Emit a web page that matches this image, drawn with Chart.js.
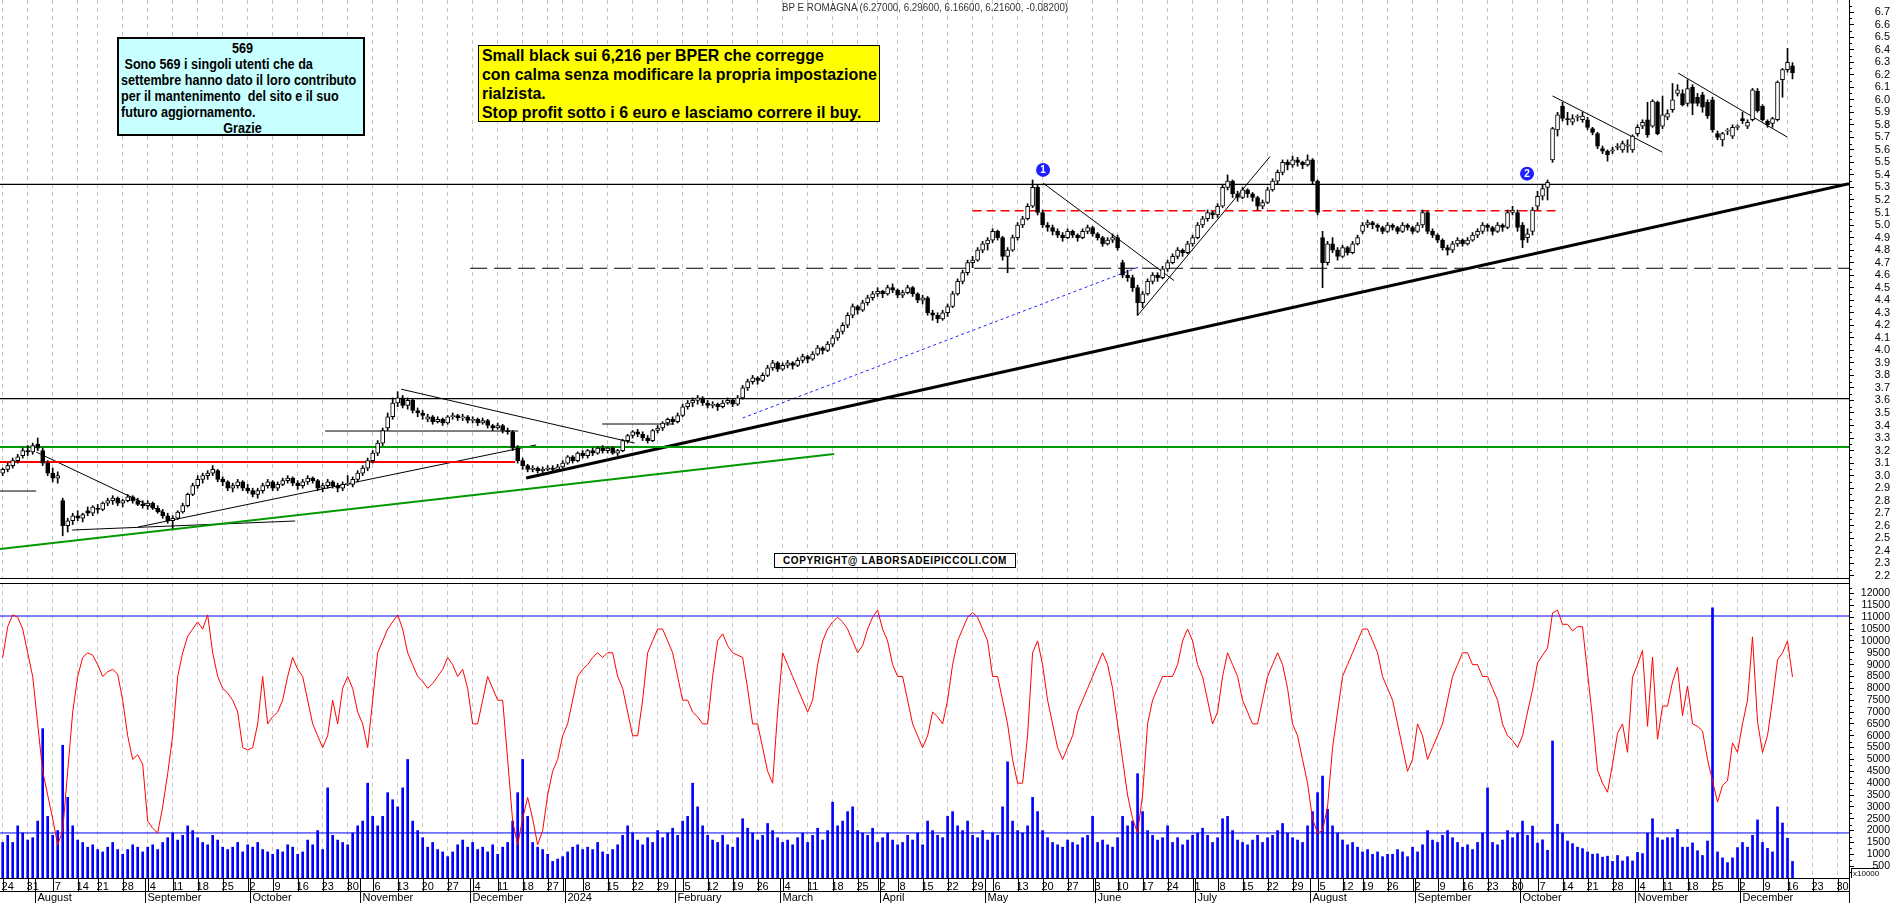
<!DOCTYPE html>
<html>
<head>
<meta charset="utf-8">
<title>BP E ROMAGNA</title>
<script src="https://cdn.jsdelivr.net/npm/chart.js@4.4.1/dist/chart.umd.min.js"></script>
<style>
  html, body { margin: 0; padding: 0; background: #fff; }
  body { width: 1890px; height: 903px; position: relative; overflow: hidden; font-family: "Liberation Sans", Arial, sans-serif; }
  canvas { position: absolute; left: 0; }
  #priceCanvas { top: 0; }
  #oscCanvas { top: 580px; }
  .title { position: absolute; left: 782px; top: 1px; font-size: 11px; color: #333; white-space: nowrap; transform: scaleX(0.89); transform-origin: left top; }
  .note { position: absolute; box-sizing: border-box; color: #000; white-space: nowrap; }
  .squeeze { transform-origin: left top; }
  #boxUsers { left: 117px; top: 37px; width: 248px; height: 99px; background: #c8ffff; border: 2px solid #000;
              font-size: 14px; line-height: 16px; padding: 1px 0 0 2px; }
  #boxUsers .squeeze { transform: scaleX(0.9); font-weight: bold; width: 270px; }
  #boxSignal { left: 478px; top: 45px; width: 402px; height: 77px; background: #ffff00; border: 1px solid #000;
               font-weight: bold; font-size: 17px; line-height: 19px; padding: 0 0 0 3px; }
  #boxSignal .squeeze { transform: scaleX(0.937); }
  #boxCopy { left: 774px; top: 553px; width: 242px; height: 15px; background: #fff; border: 1px solid #000;
             font-weight: bold; font-size: 10px; line-height: 13px; text-align: center; letter-spacing: 0.6px; }
  #unitBox { left: 1851px; top: 868px; width: 28px; height: 10px; border-left: 1px solid #000; border-top: 1px solid #000; font-size: 8px; line-height: 9px; padding-left: 1px; }
</style>
</head>
<body>
<canvas id="priceCanvas" width="1890" height="580" style="width:1890px;height:580px"></canvas>
<canvas id="oscCanvas" width="1890" height="323" style="width:1890px;height:323px"></canvas>
<div class="title">BP E ROMAGNA (6.27000, 6.29600, 6.16600, 6.21600, -0.08200)</div>
<div class="note" id="boxUsers"><div class="squeeze">
  <div style="text-align:center">569</div>
  <div>&nbsp;Sono 569 i singoli utenti che da</div>
  <div>settembre hanno dato il loro contributo</div>
  <div>per il mantenimento &nbsp;del sito e il suo</div>
  <div>futuro aggiornamento.</div>
  <div style="text-align:center">Grazie</div>
</div></div>
<div class="note" id="boxSignal"><div class="squeeze">
  <div>Small black sui 6,216 per BPER che corregge</div>
  <div>con calma senza modificare la propria impostazione</div>
  <div>rialzista.</div>
  <div>Stop profit sotto i 6 euro e lasciamo correre il buy.</div>
</div></div>
<div class="note" id="boxCopy">COPYRIGHT@ LABORSADEIPICCOLI.COM</div>
<div class="note" id="unitBox">x10000</div>
<script>
// trading calendar (Borsa Italiana closing days inside the traded range)
const holidays = ['2023-08-15','2023-12-25','2023-12-26','2024-01-01','2024-03-29','2024-04-01','2024-05-01','2024-08-15'];
const firstDate = '2023-07-21';
const lastDate = '2024-12-31';
const zeroDate = '2023-07-24';
const monthLabels = ['August','September','October','November','December','2024','February','March','April','May','June','July','August','September','October','November','December'];

// daily candles, one row per week, from 21 Jul 2023 to 16 Dec 2024
const opens = [
  3.02,
  3.05,3.08,3.12,3.16,3.20, 3.19,3.25,3.20,3.10,3.02, 2.98,2.80,2.60,2.64,2.68, 2.66,2.72,2.70,2.74,
  2.73,2.78,2.80,2.82,2.78, 2.80,2.83,2.80,2.77,2.76, 2.78,2.74,2.71,2.68,2.64, 2.66,2.71,2.76,2.85,2.92,
  2.97,3.00,3.02,3.04,2.97, 2.95,2.90,2.92,2.95,2.90, 2.88,2.85,2.88,2.92,2.95, 2.90,2.93,2.96,2.98,2.94,
  2.92,2.95,2.98,2.96,2.90, 2.92,2.95,2.92,2.90,2.93, 2.93,2.97,3.02,3.06,3.12, 3.18,3.26,3.38,3.47,3.58,
  3.62,3.56,3.60,3.52,3.50, 3.45,3.47,3.43,3.45,3.42, 3.47,3.48,3.46,3.47,3.44, 3.45,3.42,3.44,3.40,3.38,
  3.40,3.36,3.35,3.22,3.12, 3.08,3.05,3.06,3.04,3.05, 3.06,3.05,3.07, 3.10,3.15,3.12,3.18,
  3.16,3.20,3.18,3.22,3.20, 3.22,3.18,3.20,3.28,3.32, 3.35,3.33,3.30,3.28,3.36, 3.38,3.42,3.45,3.43,3.48,
  3.55,3.58,3.60,3.62,3.58, 3.56,3.57,3.55,3.58,3.60, 3.57,3.62,3.70,3.75,3.78, 3.76,3.80,3.86,3.90,3.85,
  3.88,3.90,3.88,3.92,3.95, 3.93,3.97,4.02,4.00,4.05, 4.10,4.15,4.20,4.28,4.35, 4.32,4.38,4.42,4.45,
  4.47,4.45,4.50,4.48, 4.44,4.46,4.50,4.45,4.40, 4.42,4.30,4.28,4.25,4.30, 4.35,4.45,4.55,4.62,4.70,
  4.72,4.80,4.85,4.88, 4.95,4.90,4.75,4.80,4.90, 5.00,5.05,5.15,5.30,5.10, 5.00,4.98,4.95,4.92,4.90,
  4.95,4.92,4.90,4.95,4.98, 4.93,4.90,4.85,4.88,4.90, 4.70,4.60,4.58,4.50,4.38, 4.45,4.55,4.60,4.58,4.65,
  4.70,4.75,4.80,4.78,4.85, 4.90,5.00,5.05,5.10,5.08, 5.15,5.30,5.35,5.25,5.22, 5.28,5.25,5.22,5.15,5.18,
  5.28,5.35,5.42,5.50,5.48, 5.52,5.50,5.48,5.52,5.35, 4.90,4.70,4.85,4.80,4.75, 4.82,4.78,4.85,4.95,
  5.00,5.02,5.00,4.98,4.95, 5.00,4.98,4.95,5.00,4.98, 4.95,5.00,5.10,4.95,4.92, 4.88,4.82,4.80,4.85,4.88,
  4.85,4.88,4.92,4.95,5.00, 4.98,4.95,5.00,4.98,5.10, 5.10,5.00,4.90,4.95,5.15, 5.23,5.30,5.52,5.76,5.95,
  5.85,5.82,5.86,5.84,5.84, 5.77,5.73,5.61,5.59,5.59, 5.62,5.60,5.63,5.60,5.73, 5.79,5.84,5.79,5.98,5.79,
  5.86,5.92,6.05,6.05,5.97, 6.10,6.02,6.04,5.98,6.00, 5.73,5.68,5.75,5.71,5.78, 5.85,5.79,5.84,6.07,5.95,
  5.83,5.81,5.84,6.16,6.24, 6.27
];
const highs = [
  3.06,
  3.10,3.14,3.17,3.22,3.24, 3.26,3.30,3.22,3.12,3.06, 3.03,2.82,2.66,2.70,2.72, 2.70,2.75,2.76,2.77,
  2.79,2.82,2.84,2.83,2.81, 2.85,2.84,2.82,2.80,2.80, 2.79,2.76,2.73,2.70,2.68, 2.72,2.78,2.86,2.94,3.00,
  3.02,3.04,3.08,3.05,2.99, 2.96,2.94,2.97,2.96,2.93, 2.90,2.90,2.94,2.97,2.96, 2.95,2.98,3.00,2.99,2.96,
  2.97,3.00,2.99,2.97,2.94, 2.97,2.96,2.94,2.95,3.00, 2.99,3.04,3.08,3.14,3.20, 3.28,3.38,3.50,3.62,3.67,
  3.64,3.62,3.61,3.54,3.52, 3.49,3.48,3.47,3.46,3.48, 3.50,3.49,3.49,3.48,3.47, 3.46,3.46,3.45,3.41,3.42,
  3.41,3.38,3.36,3.24,3.14, 3.09,3.08,3.07,3.07,3.08, 3.08,3.09,3.12, 3.16,3.16,3.19,3.20,
  3.21,3.22,3.23,3.24,3.23, 3.23,3.21,3.29,3.33,3.36, 3.37,3.35,3.32,3.37,3.40, 3.43,3.46,3.47,3.50,3.57,
  3.60,3.62,3.64,3.63,3.60, 3.59,3.58,3.60,3.62,3.61, 3.64,3.72,3.77,3.80,3.79, 3.82,3.88,3.92,3.91,3.90,
  3.92,3.91,3.94,3.97,3.96, 3.99,4.04,4.03,4.07,4.12, 4.17,4.22,4.30,4.37,4.36, 4.40,4.44,4.47,4.50,
  4.48,4.52,4.53,4.49, 4.48,4.52,4.51,4.46,4.44, 4.43,4.32,4.30,4.32,4.37, 4.47,4.57,4.64,4.72,4.75,
  4.82,4.87,4.90,4.97, 4.96,4.91,4.82,4.92,5.02, 5.07,5.17,5.36,5.32,5.12, 5.02,5.00,4.97,4.94,4.97,
  4.96,4.93,4.97,5.00,4.99, 4.94,4.91,4.90,4.93,4.92, 4.72,4.64,4.60,4.52,4.47, 4.57,4.62,4.62,4.67,4.72,
  4.77,4.82,4.81,4.87,4.92, 5.02,5.07,5.12,5.11,5.17, 5.32,5.40,5.36,5.27,5.30, 5.29,5.26,5.23,5.20,5.30,
  5.37,5.44,5.52,5.52,5.55, 5.54,5.51,5.56,5.53,5.36, 4.95,4.87,4.90,4.82,4.84, 4.83,4.87,4.92,5.02,
  5.04,5.03,5.01,4.99,5.02, 5.01,4.99,5.02,5.01,4.99, 5.02,5.12,5.11,4.97,4.93, 4.89,4.84,4.87,4.90,4.89,
  4.90,4.94,4.97,5.02,5.01, 4.99,5.02,5.01,5.12,5.15, 5.12,5.02,4.97,5.14,5.27, 5.32,5.36,5.78,5.90,5.98,
  5.90,5.88,5.88,5.90,5.86, 5.78,5.74,5.63,5.60,5.62, 5.65,5.67,5.68,5.72,5.80, 5.84,5.98,6.00,5.99,6.03,
  5.92,6.13,6.12,6.08,6.16, 6.12,6.05,6.06,6.00,6.02, 5.75,5.74,5.77,5.80,5.80, 5.90,5.84,6.09,6.09,5.96,
  5.84,5.86,6.15,6.25,6.41, 6.296
];
const lows = [
  3.00,
  3.03,3.06,3.10,3.14,3.16, 3.17,3.20,3.08,3.00,2.95, 2.94,2.52,2.55,2.61,2.64, 2.63,2.68,2.68,2.70,
  2.72,2.76,2.77,2.76,2.75, 2.79,2.78,2.76,2.74,2.73, 2.73,2.70,2.66,2.62,2.58, 2.65,2.70,2.75,2.84,2.90,
  2.94,2.97,3.00,2.95,2.92, 2.88,2.87,2.90,2.88,2.86, 2.83,2.82,2.86,2.90,2.88, 2.88,2.92,2.94,2.92,2.89,
  2.90,2.93,2.94,2.88,2.87, 2.90,2.90,2.87,2.88,2.92, 2.91,2.95,3.00,3.04,3.10, 3.16,3.24,3.36,3.45,3.55,
  3.54,3.53,3.50,3.47,3.45, 3.43,3.41,3.42,3.40,3.41, 3.45,3.44,3.44,3.42,3.42, 3.40,3.41,3.38,3.36,3.37,
  3.34,3.33,3.20,3.10,3.05, 3.03,3.03,3.02,3.02,3.04, 3.03,3.04,3.06, 3.09,3.10,3.11,3.14,
  3.14,3.16,3.17,3.18,3.18, 3.17,3.16,3.19,3.26,3.30, 3.31,3.28,3.26,3.27,3.34, 3.36,3.40,3.41,3.42,3.47,
  3.53,3.55,3.57,3.56,3.54, 3.54,3.52,3.54,3.57,3.55, 3.56,3.61,3.68,3.73,3.73, 3.75,3.79,3.84,3.83,3.84,
  3.86,3.85,3.87,3.90,3.90, 3.92,3.96,3.97,3.99,4.03, 4.08,4.13,4.18,4.26,4.29, 4.31,4.36,4.40,4.43,
  4.42,4.44,4.46,4.42, 4.42,4.45,4.43,4.38,4.37, 4.28,4.24,4.22,4.24,4.27, 4.34,4.44,4.53,4.60,4.66,
  4.71,4.78,4.80,4.86, 4.88,4.72,4.62,4.79,4.88, 4.98,5.04,5.14,5.08,4.98, 4.95,4.92,4.90,4.87,4.89,
  4.90,4.87,4.89,4.93,4.91, 4.88,4.83,4.84,4.86,4.80, 4.58,4.55,4.47,4.28,4.34, 4.44,4.53,4.55,4.57,4.63,
  4.69,4.73,4.75,4.77,4.83, 4.89,4.98,5.03,5.05,5.06, 5.14,5.28,5.22,5.19,5.21, 5.22,5.19,5.12,5.13,5.17,
  5.27,5.33,5.40,5.44,5.46, 5.47,5.45,5.47,5.33,5.08, 4.50,4.68,4.78,4.72,4.74, 4.76,4.77,4.84,4.93,
  4.98,4.97,4.95,4.93,4.94, 4.96,4.93,4.94,4.96,4.93, 4.94,4.98,4.93,4.90,4.86, 4.80,4.76,4.78,4.83,4.83,
  4.84,4.87,4.90,4.93,4.95, 4.92,4.94,4.95,4.97,5.08, 4.95,4.82,4.86,4.92,5.12, 5.20,5.20,5.50,5.71,5.83,
  5.80,5.80,5.83,5.82,5.76, 5.72,5.61,5.57,5.51,5.57, 5.60,5.58,5.58,5.58,5.71, 5.77,5.70,5.78,5.72,5.77,
  5.84,5.90,6.03,5.95,5.95, 5.88,5.95,5.90,5.85,5.74, 5.68,5.63,5.72,5.69,5.76, 5.81,5.77,5.83,5.90,5.83,
  5.78,5.78,5.83,6.02,6.22, 6.166
];
const closes = [
  3.05,
  3.08,3.12,3.15,3.20,3.19, 3.24,3.22,3.10,3.02,2.98, 3.00,2.60,2.64,2.68,2.66, 2.69,2.70,2.75,2.73,
  2.78,2.80,2.82,2.78,2.80, 2.83,2.80,2.77,2.76,2.78, 2.74,2.71,2.68,2.64,2.66, 2.71,2.76,2.85,2.92,2.97,
  3.00,3.02,3.05,2.97,2.95, 2.90,2.92,2.95,2.90,2.88, 2.85,2.88,2.92,2.95,2.90, 2.93,2.96,2.98,2.94,2.92,
  2.95,2.98,2.96,2.90,2.92, 2.95,2.92,2.90,2.93,2.93, 2.97,3.02,3.06,3.12,3.18, 3.26,3.36,3.47,3.58,3.62,
  3.56,3.60,3.52,3.50,3.48, 3.47,3.43,3.45,3.42,3.47, 3.48,3.46,3.47,3.44,3.45, 3.42,3.44,3.40,3.38,3.40,
  3.36,3.35,3.22,3.12,3.08, 3.05,3.06,3.04,3.05,3.06, 3.05,3.07,3.10, 3.15,3.12,3.18,3.16,
  3.20,3.18,3.22,3.20,3.22, 3.18,3.20,3.28,3.32,3.35, 3.33,3.30,3.28,3.36,3.38, 3.42,3.45,3.43,3.48,3.55,
  3.58,3.60,3.62,3.58,3.56, 3.57,3.55,3.58,3.60,3.57, 3.62,3.70,3.75,3.78,3.76, 3.80,3.86,3.90,3.85,3.88,
  3.90,3.88,3.92,3.95,3.93, 3.97,4.02,4.00,4.05,4.10, 4.15,4.20,4.28,4.35,4.32, 4.38,4.42,4.45,4.47,
  4.45,4.50,4.48,4.44, 4.46,4.50,4.45,4.40,4.42, 4.30,4.28,4.25,4.30,4.35, 4.45,4.55,4.62,4.70,4.72,
  4.80,4.85,4.88,4.95, 4.90,4.75,4.80,4.90,5.00, 5.05,5.15,5.30,5.10,5.00, 4.98,4.95,4.92,4.90,4.95,
  4.92,4.90,4.95,4.98,4.93, 4.90,4.85,4.88,4.90,4.82, 4.60,4.58,4.50,4.38,4.45, 4.55,4.60,4.58,4.65,4.70,
  4.75,4.80,4.78,4.85,4.90, 5.00,5.05,5.10,5.08,5.15, 5.30,5.35,5.25,5.22,5.28, 5.25,5.22,5.15,5.18,5.28,
  5.35,5.42,5.50,5.48,5.52, 5.50,5.48,5.52,5.35,5.10, 4.70,4.85,4.80,4.75,4.82, 4.78,4.85,4.90,5.00,
  5.02,5.00,4.98,4.95,5.00, 4.98,4.95,5.00,4.98,4.95, 5.00,5.10,4.95,4.92,4.88, 4.82,4.80,4.85,4.88,4.85,
  4.88,4.92,4.95,5.00,4.98, 4.95,5.00,4.98,5.10,5.12, 4.98,4.88,4.93,5.12,5.23, 5.29,5.34,5.77,5.88,5.85,
  5.84,5.85,5.86,5.87,5.78, 5.74,5.63,5.59,5.56,5.60, 5.63,5.65,5.64,5.71,5.78, 5.82,5.72,5.99,5.73,5.88,
  5.89,6.00,6.08,5.96,6.09, 5.97,5.97,5.94,5.87,5.76, 5.70,5.73,5.75,5.78,5.78, 5.83,5.82,6.08,5.91,5.84,
  5.80,5.85,6.14,6.24,6.298, 6.216
];
// volume (x10000 shares)
const volumes = [
  1500,
  1800,1500,2200,1900,1600, 1700,2400,6300,2600,1800, 2000,5600,3400,2200,1600, 1500,1300,1400,1200,
  1100,1300,1500,1200,1000, 1200,1400,1300,1100,1300, 1400,1200,1500,1700,1900, 1600,1800,2200,2000,1700,
  1500,1400,1800,1600,1300, 1200,1300,1500,1100,1400, 1300,1500,1200,1100,1000, 1200,1100,1400,1300,1000,
  1100,1600,1400,2000,1200, 3800,1800,1600,1500,1400, 1900,2200,2400,4000,2600, 2200,2600,3600,3300,3000,
  3800,5000,2400,2000,1700, 1300,1500,1200,1100,900, 1100,1400,1600,1300,1500, 1200,1300,1100,1400,1000,
  1300,1500,2400,3600,5000, 2600,1500,1300,1200,1000, 700,800,900, 1100,1300,1400,1200,
  1300,1200,1500,1100,1000, 1200,1400,1800,2200,1900, 1600,1400,1700,1500,2000, 1700,1900,2100,1800,2400,
  2600,4000,3000,2200,1800, 1600,1500,1800,1400,1300, 1700,2500,2100,1900,1600, 1800,2300,2000,1700,1500,
  1600,1400,1700,1900,1500, 1800,2100,1600,2000,3200, 2200,2400,2800,3000,2000, 1900,1800,2100,1500,
  1700,1900,1600,1400, 1500,1800,1600,1900,1400, 2400,2000,1800,1700,2600, 2800,2200,2000,2400,1800,
  1700,2000,1600,1900, 1800,3000,4900,2400,2000, 1900,2200,3400,2800,2000, 1700,1500,1400,1300,1600,
  1500,1400,1700,1800,2600, 1500,1600,1400,1300,1700, 2600,2200,2400,4400,2800, 2000,1800,1600,1700,2200,
  1500,1700,1400,1600,1800, 1900,2100,1800,1500,1700, 2500,2600,2000,1600,1500, 1400,1600,1800,1500,1700,
  1800,2000,2300,1900,1700, 1600,1500,2200,2800,3600, 4300,2900,2200,1900,1600, 1400,1500,1300,1100,
  1200,1000,1100,900,1000, 1000,1200,1100,900,1300, 1100,1400,2000,1600,1500, 1800,2000,1700,1500,1300,
  1400,1200,1500,1900,3800, 1500,1400,1600,2000,1700, 1900,2400,1800,2190,1470, 1610,1170,5780,2270,1900,
  1560,1450,1300,1240,1100, 1000,1020,880,920,700, 950,720,900,720,1080, 1030,1890,2500,1700,1600,
  1700,1700,2050,1300,1300, 1480,1150,950,1560,11400, 1100,850,650,850,1280, 1500,1300,1800,2450,1500,
  1250,1100,3000,2320,1680, 700
];
// red oscillator of the lower panel
const oscValues = [
  9300,
  10600,11100,11000,10500,9500, 8500,6500,4500,3500,2500, 1400,2000,4500,7000,8500, 9300,9500,9400,9000,
  8500,8700,8800,8600,7500, 6000,5000,5200,4800,2400, 2100,1900,3000,4400,6000, 8500,9500,10200,10500,10800,
  10500,11100,9500,8500,8000, 7800,7500,7000,5500,5400, 5500,6500,8500,6500,6800, 7000,7500,8500,9300,8800,
  8500,7500,6500,6000,5500, 6000,7500,6500,8000,8500, 8000,7000,6500,5500,7500, 9500,10000,10500,10800,11100,
  10500,9500,9000,8500,8300, 8000,8200,8500,8800,9300, 9000,8500,8800,8000,6500, 6500,7500,8500,8000,7500,
  7500,5000,2400,1400,2500, 3400,2500,1400,2000,3500, 4500,5000,6000, 6500,7500,8500,8800,
  9000,9300,9500,9300,9500, 9500,8500,8000,7000,6000, 6000,7500,9500,10000,10500, 10500,10000,9500,8500,7500,
  7500,7000,6800,6500,6500, 8500,10000,10300,9800,9500, 9400,9300,8000,6500,6500, 5500,4500,4000,7000,9500,
  9000,8500,8000,7500,7000, 7500,9000,10000,10500,10800, 11000,10800,10500,10000,9500, 9800,10500,11000,11300,
  10500,10000,9000,8500, 8500,7500,6500,6000,5500, 6000,7000,6800,6500,7500, 9000,10000,10500,11000,11200,
  11000,10500,10000,8500, 8500,7500,6500,5000,4000, 4000,6000,9500,10000,9000, 7500,6500,5500,5000,5500,
  6000,7000,7500,8000,8500, 9000,9500,9000,8000,6500, 5000,3500,2500,1900,3500, 6500,7500,8000,8500,8500,
  8500,9000,10000,10500,10000, 9000,8500,7500,6500,7000, 8500,9500,9000,8500,7500, 7000,6500,6500,7500,8500,
  9000,9500,9000,8000,6500, 6000,5000,4000,2500,1900, 2000,3000,5500,7000,8500, 9000,9500,10000,10500,
  10500,10000,9500,8500,8000, 7500,6500,5500,4500,5000, 6500,6000,5000,5500,6000, 6500,7500,8500,9000,9500,
  9500,9000,9000,8500,8500, 8000,7500,6500,6000,5800, 5500,6000,7000,7930,9070, 9400,9700,11180,11300,10700,
  10700,10420,10600,10600,8650, 6750,4550,4000,3620,4800, 6100,6500,5300,8470,9000, 9600,6400,9320,5850,7250,
  7250,8270,8900,6850,8100, 6500,6400,6200,5000,4100, 3200,3900,4100,5700,5300, 6500,7500,10170,6600,5300,
  6000,7500,9200,9500,10000, 8480
];
// reference lines of the lower panel
const oscLevels = [11050, 1900];

// drawn lines on the price panel: [fromDay, fromPrice, toDay, toPrice]
const trendLines = [
  [-1.54, 5.325, 368.3, 5.325],
  [-1.54, 3.615, 368.3, 3.615],
  [-1.54, 3.229, 368.3, 3.229],
  [92.5, 4.655, 368.3, 4.655],
  [-1.54, 3.109, 101.5, 3.109],
  [193, 5.114, 310.5, 5.114],
  [103.7, 2.981, 368.3, 5.33],
  [-1.54, 2.414, 165.3, 3.173],
  [5.7, 3.188, 31, 2.71],
  [12.9, 2.566, 57.5, 2.638],
  [26.1, 2.59, 105.7, 3.245],
  [-1.54, 2.877, 5.7, 2.877],
  [63.5, 3.356, 102.1, 3.356],
  [78.7, 3.69, 125.4, 3.26],
  [118.9, 3.412, 133.3, 3.412],
  [207.1, 5.335, 233.3, 4.557],
  [226, 4.278, 252.5, 5.547],
  [309, 6.03, 330.9, 5.583],
  [334.1, 6.213, 355.9, 5.703],
  [147, 3.46, 226.3, 4.665]
];
const trendStyles = [
  ['#000', 1.2, []], ['#000', 1.2, []], ['#009a00', 2, []], ['#000', 1.2, [17, 7]],
  ['#ff0000', 2, []], ['#ff0000', 1.5, [9, 5]], ['#000', 3, []], ['#009a00', 2, []],
  ['#000', 1, []], ['#000', 1, []], ['#000', 1, []], ['#000', 1, []], ['#000', 1, []],
  ['#000', 1, []], ['#000', 1, []], ['#000', 1, []], ['#000', 1, []], ['#000', 1, []],
  ['#000', 1, []], ['#2020ff', 1, [3, 3]]
];
// numbered markers: [day, price]
const markers = [[207.1, 5.44], [303.9, 5.41]];
const markerText = ['1', '2'];

// ---------- calendar ----------
const hol = new Set(holidays);
const lastTraded = '2024-12-16';
const days = [];
for (let d = new Date(firstDate + 'T00:00:00Z'); d <= new Date(lastDate + 'T00:00:00Z'); d.setUTCDate(d.getUTCDate() + 1)) {
  const wd = d.getUTCDay();
  if (wd === 0 || wd === 6) continue;
  const s = d.toISOString().slice(0, 10);
  if (s <= lastTraded && hol.has(s)) continue;
  days.push(s);
}
const zeroIdx = days.indexOf(zeroDate);
const posOf = k => k - zeroIdx;
const X_MIN = -1.54, X_MAX = 368.3;

const weekTicks = [];
const monthStarts = [];
let lastLabelPos = -99;
days.forEach((s, k) => {
  const d = new Date(s + 'T00:00:00Z');
  const p = posOf(k);
  if (k > 0) {
    const prev = new Date(days[k - 1] + 'T00:00:00Z');
    if (d.getUTCDay() < prev.getUTCDay()) {
      const show = p - lastLabelPos >= 4;
      if (show) lastLabelPos = p;
      weekTicks.push({ pos: p - 1, label: String(d.getUTCDate()), show });
    }
    if (d.getUTCMonth() !== prev.getUTCMonth()) monthStarts.push(p);
  }
});
if (opens.length !== closes.length || highs.length !== lows.length || volumes.length !== closes.length || oscValues.length !== closes.length) {
  console.log('length mismatch', opens.length, highs.length, lows.length, closes.length, volumes.length, oscValues.length);
}

// ---------- datasets ----------
const wickData = closes.map((c, k) => ({ x: posOf(k), y: [lows[k], highs[k]] }));
const bodyData = closes.map((c, k) => ({ x: posOf(k), y: [Math.min(opens[k], c), Math.max(opens[k], c)] }));
const bodyColors = closes.map((c, k) => c >= opens[k] ? '#ffffff' : '#000000');

const lineSets = trendLines.map((t, i) => ({
  type: 'line',
  data: [{ x: t[0], y: t[1] }, { x: t[2], y: t[3] }],
  borderColor: trendStyles[i][0],
  borderWidth: trendStyles[i][1],
  borderDash: trendStyles[i][2],
  pointRadius: 0,
  order: 5
}));

const tickFont = { family: '"Liberation Sans", Arial, sans-serif', size: 11 };

function xGrid(extra) {
  return Object.assign({
    type: 'linear', min: X_MIN, max: X_MAX, offset: false,
    afterBuildTicks: s => { s.ticks = weekTicks.map(t => ({ value: t.pos })); },
    grid: { color: '#c4c4c4', lineWidth: 1, drawTicks: false, offset: false },
    border: { display: false, dash: [4, 4] }
  }, extra);
}

const topDecor = {
  id: 'topDecor',
  afterDraw(chart) {
    const { ctx, chartArea: ca, scales } = chart;
    ctx.save();
    ctx.strokeStyle = '#000';
    ctx.lineWidth = 1;
    for (let k = 0; k < 46; k++) {
      const py = Math.round(scales.y.getPixelForValue(2.25 + k * 0.1)) + 0.5;
      ctx.beginPath(); ctx.moveTo(ca.right, py); ctx.lineTo(ca.right + 3, py); ctx.stroke();
    }
    ctx.beginPath(); ctx.moveTo(0, ca.bottom + 0.5); ctx.lineTo(ca.right, ca.bottom + 0.5); ctx.stroke();
    ctx.beginPath(); ctx.moveTo(ca.right + 0.5, 0); ctx.lineTo(ca.right + 0.5, chart.height); ctx.stroke();
    markers.forEach((m, i) => {
      const px = scales.x.getPixelForValue(m[0]);
      const py = scales.y.getPixelForValue(m[1]);
      ctx.fillStyle = '#1f1fff';
      ctx.beginPath(); ctx.arc(px, py, 7, 0, Math.PI * 2); ctx.fill();
      ctx.fillStyle = '#fff';
      ctx.font = 'bold 10px "Liberation Sans", Arial, sans-serif';
      ctx.textAlign = 'center'; ctx.textBaseline = 'middle';
      ctx.fillText(markerText[i], px, py + 0.5);
    });
    ctx.restore();
  }
};

new Chart(document.getElementById('priceCanvas'), {
  type: 'bar',
  data: {
    datasets: [
      { data: bodyData, backgroundColor: bodyColors, borderColor: '#000', borderWidth: 1, borderSkipped: false,
        barThickness: 4, grouped: false, minBarLength: 1, order: 1 },
      { data: wickData, backgroundColor: '#000', borderWidth: 0, barThickness: 1, grouped: false, order: 2 },
      ...lineSets
    ]
  },
  options: {
    responsive: false, animation: false, devicePixelRatio: 1, events: [],
    layout: { padding: 0 },
    plugins: { legend: { display: false }, tooltip: { enabled: false } },
    scales: {
      x: xGrid({
        position: 'bottom',
        ticks: { display: false },
        afterFit: s => { s.height = 2; s.paddingLeft = 0; s.paddingRight = 0; }
      }),
      y: {
        type: 'linear', position: 'right', min: 2.183, max: 6.796,
        afterBuildTicks: s => { const t = []; for (let k = 22; k <= 67; k++) t.push({ value: k / 10 }); s.ticks = t; },
        afterFit: s => { s.width = 41; s.paddingTop = 0; s.paddingBottom = 0; },
        ticks: { autoSkip: false, crossAlign: 'far', padding: 19, color: '#000', font: tickFont,
                 callback: v => v.toFixed(1) },
        grid: { drawOnChartArea: false, drawTicks: true, tickLength: 5, tickColor: '#000' },
        border: { display: true, color: '#000', width: 1 }
      }
    }
  },
  plugins: [topDecor]
});

const botDecor = {
  id: 'botDecor',
  afterDraw(chart) {
    const { ctx, chartArea: ca, scales } = chart;
    ctx.save();
    ctx.strokeStyle = '#000';
    ctx.lineWidth = 1;
    for (let k = 0; k < 25; k++) {
      const py = Math.round(scales.y.getPixelForValue(250 + k * 500)) + 0.5;
      ctx.beginPath(); ctx.moveTo(ca.right, py); ctx.lineTo(ca.right + 3, py); ctx.stroke();
    }
    const rowY = ca.bottom + 13;
    ctx.beginPath(); ctx.moveTo(0, ca.top + 0.5); ctx.lineTo(ca.right, ca.top + 0.5); ctx.stroke();
    ctx.beginPath(); ctx.moveTo(0, ca.bottom + 0.5); ctx.lineTo(ca.right, ca.bottom + 0.5); ctx.stroke();
    ctx.beginPath(); ctx.moveTo(0, rowY + 0.5); ctx.lineTo(ca.right, rowY + 0.5); ctx.stroke();
    ctx.beginPath(); ctx.moveTo(ca.right + 0.5, 0); ctx.lineTo(ca.right + 0.5, chart.height); ctx.stroke();
    weekTicks.forEach(t => {
      const px = Math.round(scales.x.getPixelForValue(t.pos)) + 0.5;
      if (px < 0 || px > ca.right) return;
      ctx.beginPath(); ctx.moveTo(px, ca.bottom); ctx.lineTo(px, rowY); ctx.stroke();
    });
    ctx.fillStyle = '#000';
    ctx.font = '11px "Liberation Sans", Arial, sans-serif';
    ctx.textAlign = 'left'; ctx.textBaseline = 'middle';
    monthStarts.forEach((p, i) => {
      const px = Math.round(scales.x.getPixelForValue(p - 0.5)) + 0.5;
      ctx.beginPath(); ctx.moveTo(px, ca.bottom); ctx.lineTo(px, chart.height); ctx.stroke();
      ctx.fillText(monthLabels[i], px + 2, rowY + 6.5);
    });
    ctx.restore();
  }
};

new Chart(document.getElementById('oscCanvas'), {
  type: 'bar',
  data: {
    datasets: [
      { type: 'line', data: oscValues.map((v, k) => ({ x: posOf(k), y: v })), borderColor: '#ff0000', borderWidth: 1,
        pointRadius: 0, order: 1 },
      ...oscLevels.map(v => ({ type: 'line', data: [{ x: X_MIN, y: v }, { x: X_MAX, y: v }], borderColor: '#0000ff',
        borderWidth: 1, pointRadius: 0, order: 3 })),
      { data: volumes.map((v, k) => ({ x: posOf(k), y: v })), backgroundColor: '#0000ff', borderWidth: 0,
        barThickness: 2, grouped: false, order: 2 }
    ]
  },
  options: {
    responsive: false, animation: false, devicePixelRatio: 1, events: [],
    layout: { padding: { top: 3, left: 0, right: 0, bottom: 0 } },
    plugins: { legend: { display: false }, tooltip: { enabled: false } },
    scales: {
      x: xGrid({
        position: 'bottom',
        ticks: { autoSkip: false, maxRotation: 0, minRotation: 0, labelOffset: 5, padding: 2,
                 color: '#000', font: tickFont,
                 callback: (v, i) => weekTicks[i] && weekTicks[i].show ? weekTicks[i].label : '' },
        afterFit: s => { s.height = 25; s.paddingLeft = 0; s.paddingRight = 0; }
      }),
      y: {
        type: 'linear', position: 'right', min: 0, max: 12443,
        afterBuildTicks: s => { const t = []; for (let v = 500; v <= 12000; v += 500) t.push({ value: v }); s.ticks = t; },
        afterFit: s => { s.width = 41; s.paddingTop = 0; s.paddingBottom = 0; },
        ticks: { autoSkip: false, crossAlign: 'far', padding: 3, color: '#000', font: { family: tickFont.family, size: 10.5 },
                 callback: v => String(v) },
        grid: { drawOnChartArea: false, drawTicks: true, tickLength: 5, tickColor: '#000' },
        border: { display: true, color: '#000', width: 1 }
      }
    }
  },
  plugins: [botDecor]
});
</script>
</body>
</html>
